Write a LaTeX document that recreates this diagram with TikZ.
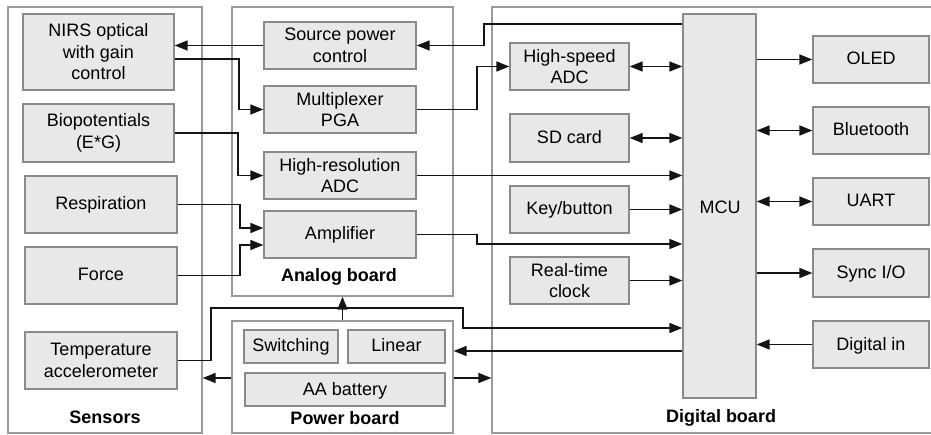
\documentclass[tikz,border=0pt]{standalone}
\usepackage{fontspec}
\setmainfont{Liberation Sans}
\usetikzlibrary{arrows.meta}
\definecolor{boxfill}{HTML}{E8E8E8}
\definecolor{boxline}{HTML}{8A8A8A}
\definecolor{panelline}{HTML}{9A9A9A}
\definecolor{wire}{HTML}{141414}
\begin{document}
\begin{tikzpicture}[x=1pt,y=-1pt,
  font=\fontsize{18}{21.5}\selectfont,
  box/.style={draw=boxline,fill=boxfill,line width=1.3pt,inner sep=0pt,minimum width=152pt,minimum height=47pt},
  ml/.style={align=center},
  sl/.style={text height=13pt,text depth=2pt},
  panel/.style={draw=panelline,line width=1.3pt,inner sep=0pt},
  lbl/.style={font=\fontsize{18}{21.5}\selectfont\bfseries,inner sep=0pt},
  tip/.tip={Triangle[length=13pt,width=10pt]},
  arr/.style={draw=wire,line width=1.6pt,-tip},
  dar/.style={draw=wire,line width=1.6pt,tip-tip}]
\useasboundingbox (0,0) rectangle (931,435);
% panels
\node[panel,minimum width=194pt,minimum height=426pt] (sensors) at (105,220) {};
\node[panel,minimum width=221pt,minimum height=289pt] (analog) at (342.5,151.5) {};
\node[panel,minimum width=221pt,minimum height=112pt] (power) at (342.5,377) {};
\node[panel,minimum width=443pt,minimum height=426pt] (digital) at (713.5,220) {};
% panel labels
\node[lbl] (lsens) at (105,417) {Sensors};
\node[lbl] (lana) at (339,277) {Analog board};
\node[lbl] (lpow) at (345,418) {Power board};
\node[lbl] (ldig) at (721,418) {Digital board};
% sensors
\node[box,ml,minimum width=151pt,minimum height=76pt] (nirs) at (98.5,52) {NIRS optical\\with gain\\control};
\node[box,ml,minimum width=151pt,minimum height=58pt] (bio) at (98.5,133) {Biopotentials\\(E*G)};
\node[box,sl,minimum height=57pt] (resp) at (101,204.5) {Respiration};
\node[box,sl,minimum height=57pt] (force) at (101,275.5) {Force};
\node[box,ml,minimum height=57pt] (temp) at (101,360.5) {Temperature\\accelerometer};
% analog
\node[box,ml] (src) at (340,45.5) {Source power\\control};
\node[box,ml] (mux) at (340,109.5) {Multiplexer\\PGA};
\node[box,ml] (hres) at (340,175.5) {High-resolution\\ADC};
\node[box,sl] (amp) at (340,234.5) {Amplifier};
% power
\node[box,sl,minimum width=94pt,minimum height=33pt] (sw) at (291,346.5) {Switching};
\node[box,sl,minimum width=97pt,minimum height=33pt] (lin) at (396.5,346.5) {Linear};
\node[box,sl,minimum width=200pt,minimum height=33pt] (aa) at (345,389.5) {AA battery};
% digital
\node[box,ml,minimum width=119pt] (hsadc) at (569.5,66.5) {High-speed\\ADC};
\node[box,sl,minimum width=119pt,minimum height=48pt] (sd) at (569.5,138) {SD card};
\node[box,sl,minimum width=119pt] (key) at (569.5,209.5) {Key/button};
\node[box,ml,minimum width=119pt] (rtc) at (569.5,280.5) {Real-time\\clock};
\node[box,minimum width=73pt,minimum height=384pt] (mcu) at (719.5,206) {};
\node[sl,inner sep=0pt] (mcut) at (720,208) {MCU};
% right side
\node[box,sl,minimum width=116pt] (oled) at (871,59.5) {OLED};
\node[box,sl,minimum width=116pt] (bt) at (871,130.5) {Bluetooth};
\node[box,sl,minimum width=116pt] (uart) at (871,201.5) {UART};
\node[box,sl,minimum width=116pt,minimum height=48pt] (sync) at (871,273) {Sync I/O};
\node[box,sl,minimum width=116pt] (din) at (871,344.5) {Digital in};
% connectors
\draw[arr] (mcu.west |- 0,24) -- (484,24) |- (src.east);
\draw[arr] (src.west) -- (nirs.east |- src.west);
\draw[arr] (nirs.east |- 0,59) -- (239,59) |- (mux.west);
\draw[arr] (mux.east) -- (477,109.5) |- (hsadc.west);
\draw[arr] (bio.east) -- (238,133) |- (hres.west);
\draw[arr] (hres.east) -- (mcu.west |- hres.east);
\draw[dar] (hsadc.east) -- (mcu.west |- hsadc.east);
\draw[dar] (sd.east) -- (mcu.west |- sd.east);
\draw[arr] (key.east) -- (mcu.west |- key.east);
\draw[arr] (resp.east) -- (240,204.5) |- (amp.west |- 0,228);
\draw[arr] (force.east) -- (240,275.5) |- (amp.west |- 0,245);
\draw[arr] (amp.east) -- (477,234.5) |- (mcu.west |- 0,244);
\draw[arr] (rtc.east) -- (mcu.west |- rtc.east);
\draw[arr] (temp.east) -- (211,360.5) -- (211,308) -- (463,308) |- (mcu.west |- 0,328);
\draw[arr] (power.north) -- (analog.south);
\draw[arr] (mcu.west |- 0,351) -- (power.east |- 0,351);
\draw[arr] (power.east |- 0,378) -- (digital.west |- 0,378);
\draw[arr] (power.west |- 0,378) -- (sensors.east |- 0,378);
\draw[arr] (mcu.east |- oled.west) -- (oled.west);
\draw[dar] (mcu.east |- bt.west) -- (bt.west);
\draw[dar] (mcu.east |- uart.west) -- (uart.west);
\draw[arr] (mcu.east |- sync.west) -- (sync.west);
\draw[arr] (din.west) -- (mcu.east |- din.west);
\end{tikzpicture}
\end{document}
